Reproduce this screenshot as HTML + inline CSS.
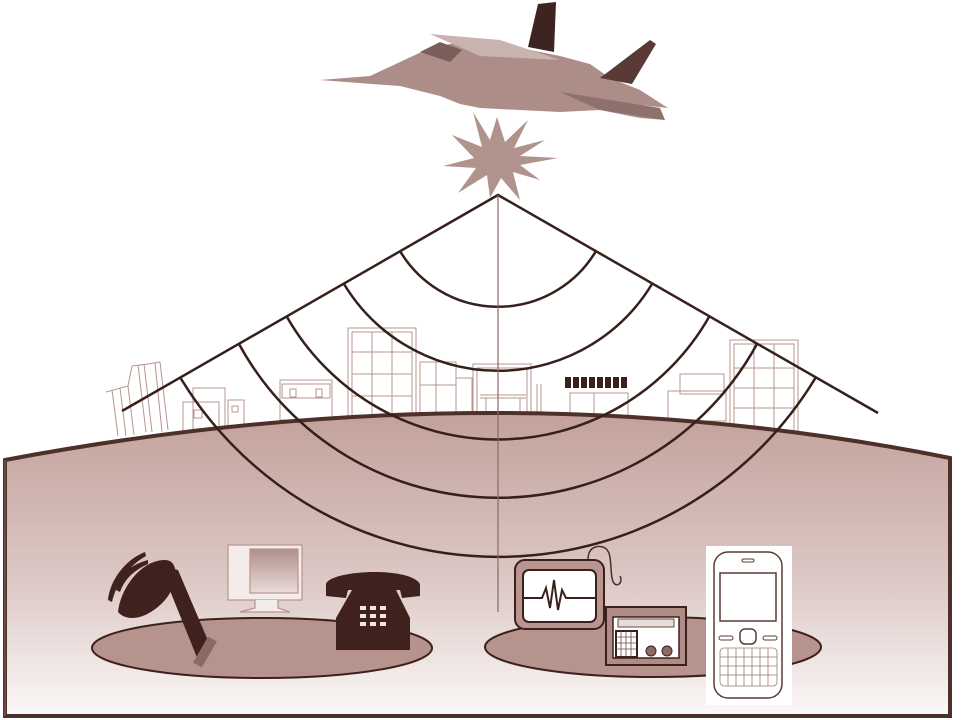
<!DOCTYPE html>
<html><head><meta charset="utf-8"><style>
html,body{margin:0;padding:0;background:#fff;}
svg{display:block;}
</style></head><body>
<svg width="963" height="720" viewBox="0 0 963 720" xmlns="http://www.w3.org/2000/svg">
<defs>
<linearGradient id="g" x1="0" y1="0" x2="0" y2="1">
<stop offset="0" stop-color="#c3a19b"/>
<stop offset="0.55" stop-color="#dcc8c5"/>
<stop offset="1" stop-color="#fbf8f7"/>
</linearGradient>
<linearGradient id="scr" x1="0" y1="0" x2="0" y2="1">
<stop offset="0" stop-color="#b08f8a"/><stop offset="1" stop-color="#e9dcda"/>
</linearGradient>
</defs>
<rect width="963" height="720" fill="#fff"/>
<!-- buildings -->
<g fill="none" stroke="#b8948e" stroke-width="1">
<path d="M106 392 L128 386 L134 435 M128 386 L132 366 L148 364 L160 362 L168 430 M112 390 L118 436 M120 388 L126 436 M138 365 L146 432 M144 364 L152 432 M155 363 L162 432"/>
<rect x="183" y="402" width="36" height="30"/><rect x="193" y="388" width="32" height="44"/><rect x="194" y="410" width="8" height="8"/>
<rect x="228" y="400" width="16" height="30"/><rect x="232" y="406" width="6" height="6"/>
<rect x="280" y="380" width="52" height="40"/><rect x="282" y="384" width="48" height="14"/>
<rect x="290" y="389" width="6" height="8"/><rect x="316" y="389" width="6" height="8"/>
<rect x="348" y="328" width="68" height="88"/><rect x="352" y="332" width="60" height="84"/>
<path d="M372 332 V416 M392 332 V416 M352 352 H412 M352 374 H412 M352 396 H412"/>
<rect x="420" y="362" width="36" height="54"/><path d="M436 362 V416 M420 385 H456"/>
<rect x="456" y="378" width="16" height="38"/>
<rect x="473" y="364" width="58" height="52"/><rect x="477" y="368" width="50" height="48"/>
<path d="M480 395 H526 M480 398 H526 M486 398 V416 M520 398 V416"/>
<path d="M537 384 V414 M541 384 V414"/>
<rect x="570" y="393" width="58" height="24"/><path d="M594 393 V417"/>
<rect x="668" y="391" width="58" height="30"/><rect x="680" y="374" width="44" height="20"/>
<rect x="730" y="340" width="68" height="92"/><rect x="734" y="344" width="60" height="88"/>
<path d="M754 344 V432 M774 344 V432 M734 368 H794 M734 388 H794 M734 408 H794"/>
</g>
<g fill="#3c201c">
<rect x="565" y="377" width="6" height="11"/><rect x="573" y="377" width="6" height="11"/><rect x="581" y="377" width="6" height="11"/><rect x="589" y="377" width="6" height="11"/><rect x="597" y="377" width="6" height="11"/><rect x="605" y="377" width="6" height="11"/><rect x="613" y="377" width="6" height="11"/><rect x="621" y="377" width="6" height="11"/>
</g>
<!-- ground -->
<path d="M5 460 Q498 367 950 458 L950 716 L5 716 Z" fill="url(#g)" stroke="#4e302b" stroke-width="4"/>
<path d="M5 460 L5 716" stroke="#6a4a44" stroke-width="2"/>
<!-- ellipses -->
<ellipse cx="262" cy="648" rx="170" ry="30" fill="#b6938d" stroke="#3c201c" stroke-width="2"/>
<ellipse cx="653" cy="647" rx="168" ry="30" fill="#b6938d" stroke="#3c201c" stroke-width="2"/>
<!-- cone & waves -->
<g fill="none" stroke="#35201c" stroke-width="2.5">
<path d="M122 411 L498 195 L878 413"/>
<path d="M400 251 A114 114 0 0 0 596 251"/>
<path d="M344 284 A180 180 0 0 0 652 284"/>
<path d="M287 317 A243 243 0 0 0 709 317"/>
<path d="M239 344 A295 295 0 0 0 757 344"/>
<path d="M180 377 A371 371 0 0 0 816 377"/>
</g>
<path d="M498 195 V612" stroke="#8a6a64" stroke-width="1.2"/>
<!-- star -->
<polygon fill="#b1938e" points="497,117 505,142 528,120 514,148 545,140 520,156 558,158 520,165 540,180 513,172 520,200 501,178 490,198 487,175 458,193 476,168 443,166 474,158 452,135 482,147 473,112 490,140" />
<!-- plane -->
<g>
<polygon fill="#ad8d88" points="320,80 370,76 400,62 430,48 470,40 520,48 560,56 590,64 610,78 640,90 668,108 630,104 665,120 640,118 600,110 560,112 520,110 480,108 460,104 440,96 400,86 372,84"/>
<polygon fill="#3e2420" points="528,47 538,4 556,2 554,52"/>
<polygon fill="#5a3a35" points="600,78 650,40 656,44 632,84"/>
<polygon fill="#c9b3af" points="430,34 500,40 560,60 480,56"/>
<polygon fill="#7a5e59" points="420,52 440,42 462,50 450,62"/>
<polygon fill="#8e716c" points="560,92 660,108 665,120 600,110"/>
</g>
<!-- speaker -->
<g fill="#3f221e">
<path d="M118 612 C120 590 140 560 165 560 C180 560 178 585 165 600 C152 615 130 625 118 612 Z"/>
<path d="M160 566 L178 570 L212 650 L198 660 Z"/>
<path d="M108 600 C110 580 125 560 145 552 L146 556 C128 566 116 584 112 602 Z"/>
<path d="M116 590 C118 575 130 565 148 560 L148 564 C134 570 124 580 120 592 Z"/>
</g>
<rect x="190" y="647" width="30" height="10" fill="#8c6a64" transform="rotate(-60 205 652)"/>
<!-- computer -->
<g fill="#f3ecea" stroke="#b8948e" stroke-width="1.2">
<rect x="228" y="545" width="74" height="55"/>
<rect x="250" y="549" width="48" height="44" fill="url(#scr)"/>
<path d="M255 600 L255 608 L240 612 L290 612 L278 608 L278 600"/>
</g>
<!-- telephone -->
<g fill="#3f221e">
<path d="M326 584 C330 570 410 566 420 584 L420 596 L402 598 L400 590 L348 590 L346 598 L326 596 Z"/>
<path d="M352 590 L396 590 L410 618 L410 650 L336 650 L336 618 Z"/>
</g>
<g fill="#f0e6e4">
<rect x="360" y="606" width="6" height="4"/><rect x="370" y="606" width="6" height="4"/><rect x="380" y="606" width="6" height="4"/>
<rect x="360" y="614" width="6" height="4"/><rect x="370" y="614" width="6" height="4"/><rect x="380" y="614" width="6" height="4"/>
<rect x="360" y="622" width="6" height="4"/><rect x="370" y="622" width="6" height="4"/><rect x="380" y="622" width="6" height="4"/>
</g>
<!-- monitor w/ waveform -->
<path d="M588 560 C588 545 600 545 605 548 C612 552 610 566 612 578 C614 590 624 584 620 576" fill="none" stroke="#4e302b" stroke-width="1.5"/>
<rect x="515" y="560" width="89" height="69" rx="10" fill="#b89590" stroke="#3c201c" stroke-width="2"/>
<rect x="523" y="570" width="73" height="52" rx="6" fill="#fff" stroke="#3c201c" stroke-width="2"/>
<path d="M524 598 L542 598 L546 588 L550 608 L554 580 L558 610 L562 590 L566 598 L596 598" fill="none" stroke="#3c201c" stroke-width="2"/>
<!-- radio -->
<rect x="606" y="607" width="80" height="58" fill="#b08c86" stroke="#3c201c" stroke-width="2"/>
<rect x="613" y="617" width="66" height="41" fill="#fff" stroke="#3c201c" stroke-width="1.5"/>
<rect x="618" y="619" width="56" height="8" fill="#e8dcda" stroke="#6a4a44" stroke-width="1"/>
<rect x="616" y="631" width="21" height="26" fill="#fff" stroke="#3c201c" stroke-width="2"/>
<path d="M621 631 V657 M626 631 V657 M631 631 V657 M616 637 H637 M616 643 H637 M616 649 H637" stroke="#6a4a44" stroke-width="0.8"/>
<circle cx="651" cy="651" r="5" fill="#8c6a64" stroke="#3c201c"/>
<circle cx="667" cy="651" r="5" fill="#8c6a64" stroke="#3c201c"/>
<!-- mobile -->
<rect x="706" y="546" width="86" height="159" fill="#fff"/>
<rect x="714" y="552" width="68" height="146" rx="14" fill="#fff" stroke="#5a3a35" stroke-width="1.5"/>
<rect x="720" y="573" width="56" height="48" fill="#fff" stroke="#5a3a35" stroke-width="1.5"/>
<rect x="742" y="559" width="12" height="3" rx="1.5" fill="none" stroke="#5a3a35"/>
<rect x="740" y="629" width="16" height="15" rx="5" fill="none" stroke="#5a3a35" stroke-width="1.5"/>
<rect x="719" y="636" width="14" height="4" rx="2" fill="none" stroke="#5a3a35"/>
<rect x="763" y="636" width="14" height="4" rx="2" fill="none" stroke="#5a3a35"/>
<g stroke="#9a7a74" stroke-width="0.8" fill="none">
<rect x="720" y="648" width="57" height="38" rx="4"/>
<path d="M728 648 V686 M736 648 V686 M744 648 V686 M752 648 V686 M760 648 V686 M768 648 V686 M720 657 H777 M720 666 H777 M720 675 H777"/>
</g>
</svg>
</body></html>
